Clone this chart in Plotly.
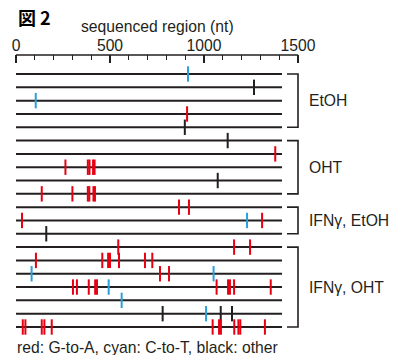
import plotly.graph_objects as go

# ---- data ----
n_rows = 20
seq_length = 1415  # sequenced length drawn for every clone (nt)

red_row = [4, 7, 8, 8, 8, 8, 8, 10, 10, 10, 10, 10, 10, 11, 11, 12, 12,
           14, 14, 14, 15, 15, 15, 15, 15, 15, 15, 16, 16,
           17, 17, 17, 17, 17, 17, 17, 17, 17, 17,
           20, 20, 20, 20, 20, 20, 20, 20, 20, 20, 20, 20]
red_nt = [910, 1379, 263, 382, 391, 410, 418, 137, 300, 382, 390, 412, 420, 867, 920, 32, 1309,
          544, 1160, 1245, 106, 459, 490, 500, 548, 686, 725, 766, 814,
          303, 324, 387, 421, 431, 1067, 1128, 1138, 1160, 1355,
          36, 50, 137, 151, 190, 1046, 1080, 1090, 1161, 1183, 1193, 1324]

cyan_row = [1, 3, 12, 16, 16, 17, 18, 19]
cyan_nt = [915, 105, 1229, 83, 1051, 493, 562, 1011]

black_row = [2, 5, 6, 9, 13, 19, 19, 19]
black_nt = [1266, 898, 1126, 1073, 161, 780, 1089, 1149]

group_names = ["EtOH", "OHT", "IFNγ, EtOH", "IFNγ, OHT"]
group_first = [1, 6, 11, 14]
group_last = [5, 10, 13, 20]

major_ticks = [0, 500, 1000, 1500]
minor_ticks = [100, 200, 300, 400, 600, 700, 800, 900, 1100, 1200, 1300, 1400]

font_family = "Arial, Liberation Sans, sans-serif"
FS = 15.7
RED = "#e60012"
CYAN = "#2a9fd8"
BLACK = "#231f20"

# ---- geometry (pixel layout of figure) ----
W, H = 395, 355
x0_px, x1500_px = 16, 298
px_per_nt = (x1500_px - x0_px) / 1500
x_min = -x0_px / px_per_nt
x_max = (W - x0_px) / px_per_nt

top_px, bot_px = 55, 340
row1_px, row20_px = 74, 327
px_per_row = (row20_px - row1_px) / (n_rows - 1)
y_top = 1 - (row1_px - top_px) / px_per_row
y_bot = 1 + (bot_px - row1_px) / px_per_row


def paper_y(px):
    return (bot_px - px) / (bot_px - top_px)


fig = go.Figure()

# row lines
lx, ly = [], []
for r in range(1, n_rows + 1):
    lx += [0, seq_length, None]
    ly += [r, r, None]
fig.add_trace(go.Scatter(x=lx, y=ly, mode="lines",
                         line=dict(color=BLACK, width=2), hoverinfo="skip"))

for xs, ys, col in [(black_nt, black_row, BLACK), (cyan_nt, cyan_row, CYAN), (red_nt, red_row, RED)]:
    fig.add_trace(go.Scatter(
        x=xs, y=ys, mode="markers",
        marker=dict(symbol="line-ns", size=11, color=col,
                    line=dict(color=col, width=2)),
        hoverinfo="skip"))

# brackets + group labels
arm_nt = (287 - x0_px) / px_per_nt
brk_nt = 1500
label_nt = (307 - x0_px) / px_per_nt
for name, a, b in zip(group_names, group_first, group_last):
    fig.add_shape(type="path",
                  path=f"M {arm_nt} {a} L {brk_nt} {a} L {brk_nt} {b} L {arm_nt} {b}",
                  xref="x", yref="y", line=dict(color=BLACK, width=1.6))
    fig.add_annotation(x=label_nt, y=(a + b) / 2, xref="x", yref="y",
                       text=name, showarrow=False, xanchor="left", yanchor="middle",
                       font=dict(family=font_family, size=FS, color="#231f20"))

# axis line (top)
fig.add_shape(type="line", x0=0, x1=1500, y0=1, y1=1, xref="x", yref="paper",
              line=dict(color=BLACK, width=1.6))

# axis title
fig.add_annotation(x=750, y=paper_y(27), xref="x", yref="paper",
                   text="sequenced region (nt)", showarrow=False,
                   xanchor="center", yanchor="middle",
                   font=dict(family=font_family, size=FS, color="#231f20"))

# figure label
fig.add_annotation(x=x0_px / W, y=paper_y(17), xref="paper", yref="paper",
                   text="<b>図 2</b>", showarrow=False, xanchor="left", yanchor="middle",
                   font=dict(family="Noto Sans CJK JP", size=18, color="#000000"))

# colour key
fig.add_annotation(x=x0_px / W - 0.003, y=paper_y(347), xref="paper", yref="paper",
                   text="red: G-to-A, cyan: C-to-T, black: other", showarrow=False,
                   xanchor="left", yanchor="middle",
                   font=dict(family=font_family, size=FS, color="#231f20"))

fig.update_layout(
    width=W, height=H,
    margin=dict(l=0, r=0, t=top_px, b=H - bot_px, pad=0),
    paper_bgcolor="white", plot_bgcolor="white",
    showlegend=False,
    xaxis=dict(range=[x_min, x_max], side="top", showgrid=False, zeroline=False,
               showline=False, tickmode="array", tickvals=major_ticks,
               ticktext=[str(v) for v in major_ticks],
               ticks="inside", ticklen=8, tickwidth=1.6, tickcolor=BLACK,
               tickfont=dict(family=font_family, size=FS, color="#231f20"),
               minor=dict(tickvals=minor_ticks, ticks="inside", ticklen=5,
                          tickwidth=1.4, tickcolor=BLACK, showgrid=False),
               fixedrange=True),
    yaxis=dict(range=[y_bot, y_top], visible=False, showgrid=False, zeroline=False,
               fixedrange=True),
)

fig.write_html("out.html", config={"displayModeBar": False},
               post_script="document.body.style.margin='0';document.body.style.overflow='hidden';")
